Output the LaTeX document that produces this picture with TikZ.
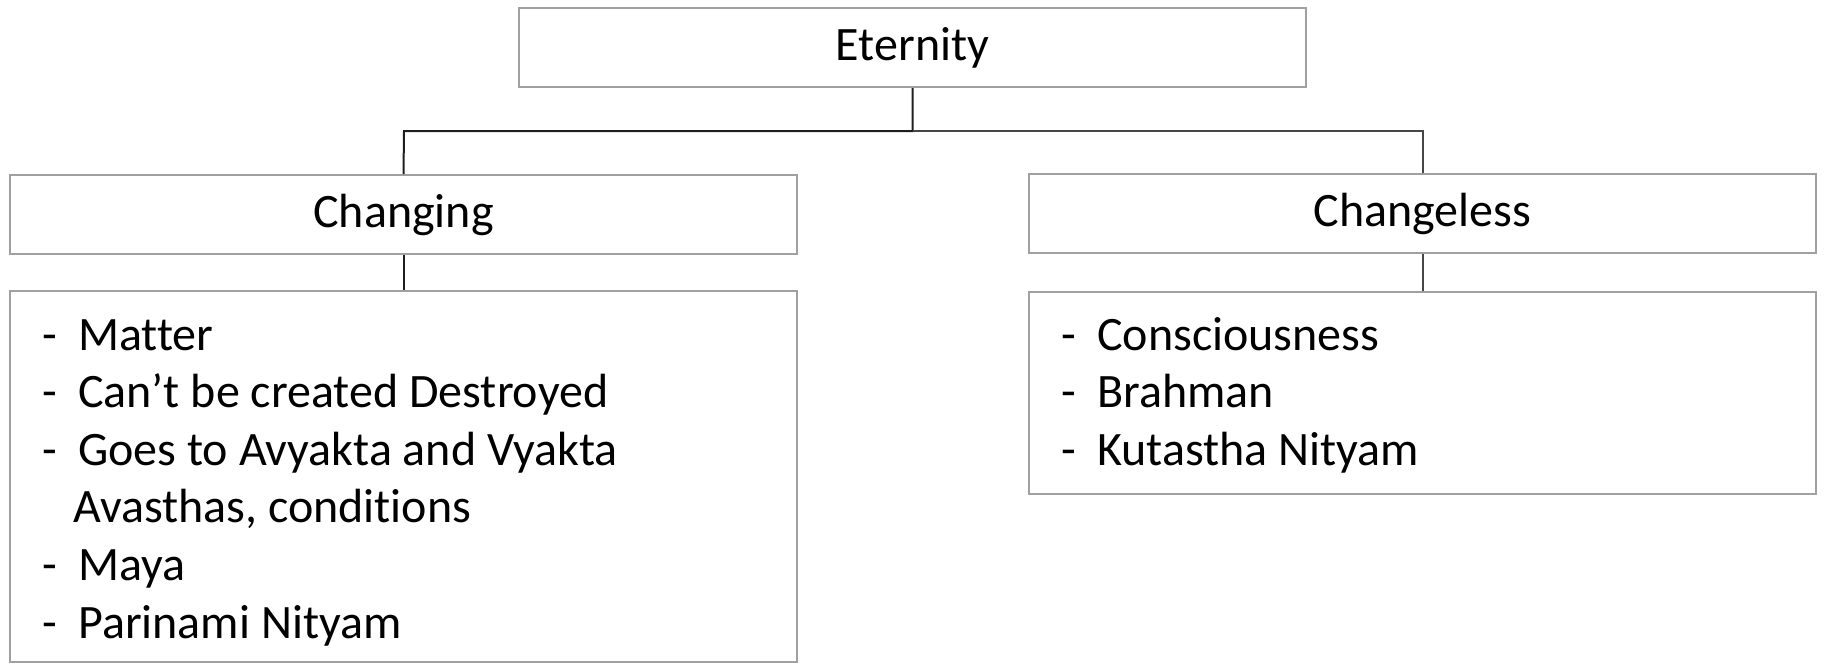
\documentclass[tikz,border=0pt]{standalone}
\usepackage{fontspec}
\setmainfont[Ligatures=NoCommon]{Carlito}
\definecolor{boxgray}{RGB}{160,160,160}
\definecolor{linedark}{RGB}{30,30,30}
\definecolor{linegray}{RGB}{70,70,70}
\begin{document}
\begin{tikzpicture}[x=1pt,y=-1pt,
  box/.style={draw=boxgray,line width=2pt,inner sep=0pt,fill=white},
  hbox/.style={box,minimum width=787pt,minimum height=79pt,font=\fontsize{48}{58}\selectfont},
  item/.style={anchor=base west,inner sep=0pt,font=\fontsize{48}{58}\selectfont},
  conn/.style={draw=linedark,line width=2pt}]
\useasboundingbox (0,0) rectangle (1825,664);
\coordinate (jl) at (404,131);
\coordinate (jr) at (1422.5,131);
\coordinate (jm) at (912.5,131);
% boxes
\node[hbox] (eternity) at (912.5,47.5) {Eternity};
\node[hbox] (changing) at (403.5,214.5) {Changing};
\node[hbox] (changeless) at (1422.5,213.5) {Changeless};
\node[box,minimum width=787pt,minimum height=371pt] (leftlist) at (403.5,476.5) {};
\node[box,minimum width=787pt,minimum height=202pt] (rightlist) at (1422.5,392.5) {};
% connectors
\draw[conn] (eternity.south) -- (jm) -- (jl) -- (changing.north);
\draw[conn,draw=linegray] (jm) -- (jr) -- (changeless.north);
\draw[conn] (changing.south) -- (leftlist.north);
\draw[conn,draw=linegray] (changeless.south) -- (rightlist.north);
% left list
\node[item] (l1d) at (42,350) {-};
\node[item] (l1) at (78,350) {Matter};
\node[item] (l2d) at (42,407.6) {-};
\node[item] (l2) at (78,407.6) {Can’t be created Destroyed};
\node[item] (l3d) at (42,465.2) {-};
\node[item] (l3) at (78,465.2) {Goes to Avyakta and Vyakta};
\node[item] (l4) at (73,522.8) {Avasthas, conditions};
\node[item] (l5d) at (42,580.4) {-};
\node[item] (l5) at (78,580.4) {Maya};
\node[item] (l6d) at (42,638) {-};
\node[item] (l6) at (78,638) {Parinami Nityam};
% right list
\node[item] (r1d) at (1061,350) {-};
\node[item] (r1) at (1097,350) {Consciousness};
\node[item] (r2d) at (1061,407.6) {-};
\node[item] (r2) at (1097,407.6) {Brahman};
\node[item] (r3d) at (1061,465.2) {-};
\node[item] (r3) at (1097,465.2) {Kutastha Nityam};
\end{tikzpicture}
\end{document}
